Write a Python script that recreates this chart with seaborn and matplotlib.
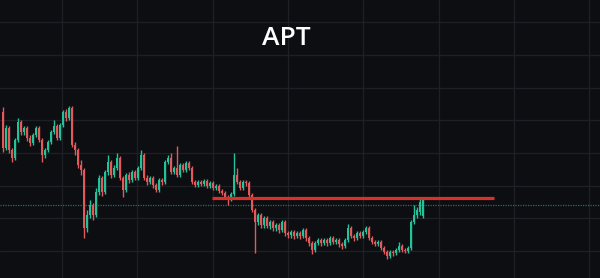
import matplotlib
matplotlib.use("Agg")
import matplotlib.pyplot as plt
import seaborn as sns
import numpy as np
import pandas as pd

title = "APT"

open_ = [188,152,172,150,142,160,178,168,172,162,157,165,172,160,145,150,158,168,174,162,175,188,182,192,155,150,135,130,72,85,95,85,108,122,108,128,138,125,132,142,122,110,125,120,128,122,132,145,122,118,122,115,110,120,118,138,142,128,132,125,135,130,137,132,118,115,118,116,119,114,117,112,114,109,107,103,101,106,125,118,112,118,117,105,90,78,85,75,82,74,78,72,75,70,78,67,65,68,64,67,64,70,62,57,50,57,60,57,60,57,62,58,60,56,54,60,72,64,62,67,64,68,72,62,58,56,58,52,48,44,48,47,50,54,50,49,52,78,85,88,84]
close = [152,172,150,142,160,178,168,172,162,157,165,172,160,145,150,158,168,174,162,175,188,182,192,155,150,135,130,72,85,95,85,108,122,108,128,138,125,132,142,122,110,125,120,128,122,132,145,122,118,122,115,110,120,118,138,142,128,132,125,135,130,137,132,118,115,118,116,119,114,117,112,114,109,107,103,101,106,125,118,112,118,117,105,90,78,85,75,82,74,78,72,75,70,78,67,65,68,64,67,64,70,62,57,50,57,60,57,60,57,62,58,60,56,54,60,72,64,62,67,64,68,72,62,58,56,58,52,48,44,48,47,50,54,50,49,52,78,85,90,98,100]
high = [193,175,174,152,162,182,180,174,174,165,167,174,174,162,152,160,170,180,176,177,190,191,194,194,158,152,140,132,90,100,97,112,125,124,130,145,140,135,147,144,124,127,128,130,130,134,150,147,125,124,124,117,122,122,140,145,147,134,154,137,137,139,139,134,120,120,120,121,121,119,119,116,116,111,109,105,108,147,132,120,120,120,119,107,92,87,87,84,84,80,80,77,77,80,80,69,70,70,69,69,72,72,64,59,59,62,62,62,62,64,64,62,62,58,62,76,74,66,69,69,70,74,74,64,60,60,60,54,50,50,50,52,58,56,52,54,80,95,93,102,103]
low = [148,150,147,138,140,158,165,165,159,154,155,163,158,138,142,148,156,166,160,160,173,179,180,153,145,132,125,62,68,82,80,83,105,104,106,125,122,123,130,120,103,108,117,118,120,120,130,120,115,116,112,108,108,115,116,136,126,126,123,123,128,128,130,116,113,113,114,114,112,112,110,110,107,105,101,95,99,104,116,110,110,114,103,88,47,75,72,72,72,71,69,69,67,68,64,62,62,61,62,61,62,59,54,46,48,55,54,55,54,55,56,56,53,51,52,58,62,59,60,62,62,66,60,56,54,54,50,46,41,42,44,45,48,48,47,47,50,76,82,85,82]

resistance_level = 102.5
resistance_start, resistance_end = 69.7, 163.7
last_price_level = 95

n = min(len(open_), len(close), len(high), len(low))
df = pd.DataFrame({"i": np.arange(n), "open": open_[:n], "close": close[:n],
                   "high": high[:n], "low": low[:n]})
df["up"] = df["close"] >= df["open"]

BG = "#0d0e12"
GRID = "#1e2025"
UP = "#22c39a"
DOWN = "#e2595a"

sns.set_theme(style="dark", rc={"axes.facecolor": BG, "figure.facecolor": BG})
fig = plt.figure(figsize=(6.0, 2.78), dpi=100)
ax = fig.add_axes([0, 0, 1, 1])
ax.set_facecolor(BG)

ax.set_xlim(-1, 199)
ax.set_ylim(22, 300)

for gx in [19.7, 44.8, 69.9, 95.0, 120.1, 145.2, 170.3, 195.4]:
    ax.axvline(gx, color=GRID, lw=0.9, zorder=0)
for gy in [278, 245, 212.5, 180, 147, 114.5, 82, 49]:
    ax.axhline(gy, color=GRID, lw=0.9, zorder=0)

colors = np.where(df["up"], UP, DOWN)
ax.vlines(df["i"], df["low"], df["high"], colors=colors, lw=1.0, zorder=2)
bottoms = np.minimum(df["open"], df["close"])
heights = np.maximum(np.abs(df["close"] - df["open"]), 0.8)
ax.bar(df["i"], heights, bottom=bottoms, width=0.75, color=colors, linewidth=0, zorder=3)

ax.axhline(last_price_level, color="#2b7a68", lw=0.9, ls=(0, (1, 1)), zorder=1, alpha=0.9)
ax.hlines(resistance_level, resistance_start, resistance_end, color="#d7312c", lw=2.3, zorder=4)

ax.text(0.478, 0.862, title, transform=ax.transAxes, ha="center", va="center",
        color="white", fontsize=19, family=["Open Sans", "DejaVu Sans"], fontweight="semibold")

ax.set_xticks([])
ax.set_yticks([])
for s in ax.spines.values():
    s.set_visible(False)
ax.grid(False)

fig.savefig("out.png", dpi=100, facecolor=BG)
